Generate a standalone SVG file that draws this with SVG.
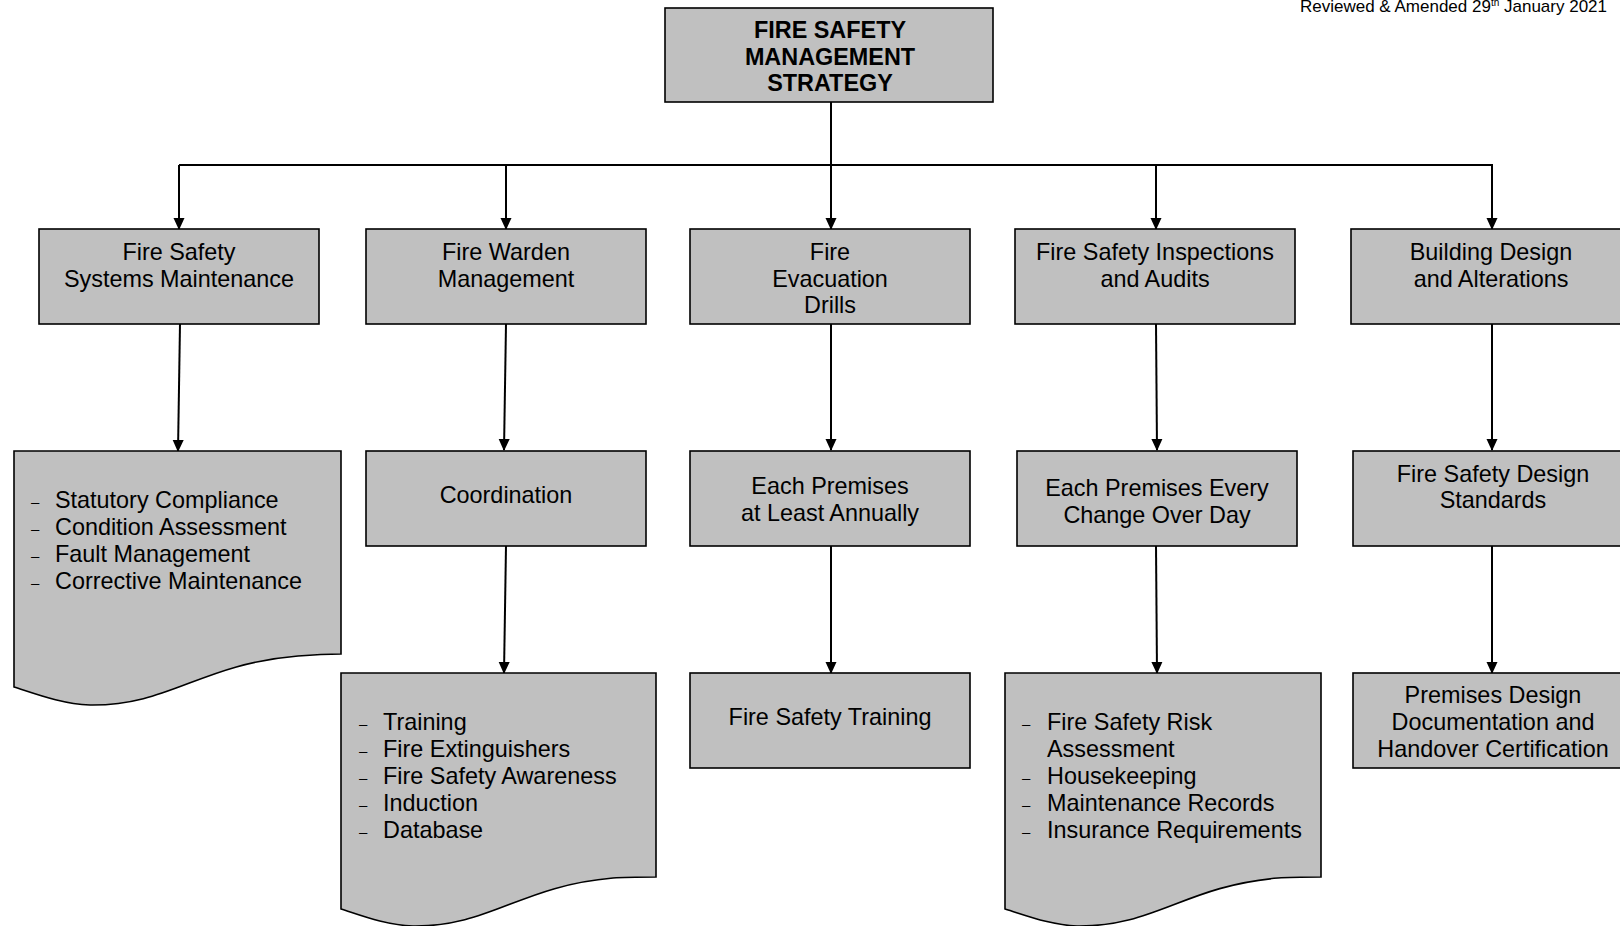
<svg xmlns="http://www.w3.org/2000/svg" width="1620" height="926" viewBox="0 0 1620 926">
<defs>
<style>
.box{fill:#c0c0c0;stroke:#000;stroke-width:1.6}
.t{font-family:"Liberation Sans",Arial,sans-serif;font-size:23.4px;fill:#000}
.c{text-anchor:middle}
.b{font-weight:bold}
.d{font-family:"Liberation Sans",Arial,sans-serif;font-size:15px;fill:#000}
.ln{fill:none;stroke:#000;stroke-width:2}
</style>
<marker id="ah" markerWidth="12" markerHeight="13" refX="12" refY="6" orient="auto" markerUnits="userSpaceOnUse" viewBox="0 0 13 12">
<path d="M0,0 L13,6 L0,12 Z" fill="#000"/>
</marker>
</defs>
<rect width="1620" height="926" fill="#fff"/>
<text class="t" x="1607" y="12" style="font-size:17px;text-anchor:end">Reviewed &amp; Amended 29<tspan style="font-size:10px" dy="-6">th</tspan><tspan dy="6"> January 2021</tspan></text>

<g id="connectors">
<line class="ln" x1="831" y1="102" x2="831" y2="165"/>
<line class="ln" x1="179" y1="165" x2="1493" y2="165"/>
<line class="ln" x1="179" y1="165" x2="179" y2="229" marker-end="url(#ah)"/>
<line class="ln" x1="506" y1="165" x2="506" y2="229" marker-end="url(#ah)"/>
<line class="ln" x1="831" y1="165" x2="831" y2="229" marker-end="url(#ah)"/>
<line class="ln" x1="1156" y1="165" x2="1156" y2="229" marker-end="url(#ah)"/>
<line class="ln" x1="1492" y1="165" x2="1492" y2="229" marker-end="url(#ah)"/>
<line class="ln" x1="180" y1="324" x2="178" y2="451" marker-end="url(#ah)"/>
<line class="ln" x1="506" y1="324" x2="504" y2="450" marker-end="url(#ah)"/>
<line class="ln" x1="831" y1="324" x2="831" y2="450" marker-end="url(#ah)"/>
<line class="ln" x1="1156" y1="324" x2="1157" y2="450" marker-end="url(#ah)"/>
<line class="ln" x1="1492" y1="324" x2="1492" y2="450" marker-end="url(#ah)"/>
<line class="ln" x1="506" y1="546" x2="504" y2="673" marker-end="url(#ah)"/>
<line class="ln" x1="831" y1="546" x2="831" y2="673" marker-end="url(#ah)"/>
<line class="ln" x1="1156" y1="546" x2="1157" y2="673" marker-end="url(#ah)"/>
<line class="ln" x1="1492" y1="546" x2="1492" y2="673" marker-end="url(#ah)"/>
</g>

<g id="root">
<rect class="box" x="665" y="8" width="328" height="94"/>
<text class="t b c" x="830" y="38">FIRE SAFETY</text>
<text class="t b c" x="830" y="64.5">MANAGEMENT</text>
<text class="t b c" x="830" y="91">STRATEGY</text>
</g>

<g id="n-systems">
<rect class="box" x="39" y="229" width="280" height="95"/>
<text class="t c" x="179" y="260">Fire Safety</text>
<text class="t c" x="179" y="286.5">Systems Maintenance</text>
</g>
<g id="n-warden">
<rect class="box" x="366" y="229" width="280" height="95"/>
<text class="t c" x="506" y="260">Fire Warden</text>
<text class="t c" x="506" y="286.5">Management</text>
</g>
<g id="n-drills">
<rect class="box" x="690" y="229" width="280" height="95"/>
<text class="t c" x="830" y="260">Fire</text>
<text class="t c" x="830" y="286.5">Evacuation</text>
<text class="t c" x="830" y="313">Drills</text>
</g>
<g id="n-inspections">
<rect class="box" x="1015" y="229" width="280" height="95"/>
<text class="t c" x="1155" y="260">Fire Safety Inspections</text>
<text class="t c" x="1155" y="286.5">and Audits</text>
</g>
<g id="n-building">
<rect class="box" x="1351" y="229" width="285" height="95"/>
<text class="t c" x="1491" y="260">Building Design</text>
<text class="t c" x="1491" y="286.5">and Alterations</text>
</g>

<g id="n-systems-list">
<path class="box" d="M14,451 H341 V654 C325,654 310,655 298,656 C200,664 170,706 90,705 C62,704 36,694 14,687 Z"/>
<text class="d" x="31" y="507">–</text><text class="t" x="55" y="508">Statutory Compliance</text>
<text class="d" x="31" y="534">–</text><text class="t" x="55" y="535">Condition Assessment</text>
<text class="d" x="31" y="561">–</text><text class="t" x="55" y="562">Fault Management</text>
<text class="d" x="31" y="588">–</text><text class="t" x="55" y="589">Corrective Maintenance</text>
</g>
<g id="n-coordination">
<rect class="box" x="366" y="451" width="280" height="95"/>
<text class="t c" x="506" y="503">Coordination</text>
</g>
<g id="n-annually">
<rect class="box" x="690" y="451" width="280" height="95"/>
<text class="t c" x="830" y="494">Each Premises</text>
<text class="t c" x="830" y="520.5">at Least Annually</text>
</g>
<g id="n-changeover">
<rect class="box" x="1017" y="451" width="280" height="95"/>
<text class="t c" x="1157" y="496">Each Premises Every</text>
<text class="t c" x="1157" y="522.5">Change Over Day</text>
</g>
<g id="n-standards">
<rect class="box" x="1353" y="451" width="285" height="95"/>
<text class="t c" x="1493" y="481.5">Fire Safety Design</text>
<text class="t c" x="1493" y="508">Standards</text>
</g>

<g id="n-warden-list">
<path class="box" d="M341,673 H656 V877 C640,877 625,877 613,878 C520,886 490,927 413,926 C385,925 360,915 341,909 Z"/>
<text class="d" x="359" y="729">–</text><text class="t" x="383" y="730">Training</text>
<text class="d" x="359" y="756">–</text><text class="t" x="383" y="757">Fire Extinguishers</text>
<text class="d" x="359" y="783">–</text><text class="t" x="383" y="784">Fire Safety Awareness</text>
<text class="d" x="359" y="810">–</text><text class="t" x="383" y="811">Induction</text>
<text class="d" x="359" y="837">–</text><text class="t" x="383" y="838">Database</text>
</g>
<g id="n-training">
<rect class="box" x="690" y="673" width="280" height="95"/>
<text class="t c" x="830" y="725">Fire Safety Training</text>
</g>
<g id="n-inspection-list">
<path class="box" d="M1005,673 H1321 V877 C1305,877 1290,877 1278,878 C1185,886 1155,927 1077,926 C1050,925 1025,915 1005,909 Z"/>
<text class="d" x="1022" y="729">–</text><text class="t" x="1047" y="730">Fire Safety Risk</text>
<text class="t" x="1047" y="757">Assessment</text>
<text class="d" x="1022" y="783">–</text><text class="t" x="1047" y="784">Housekeeping</text>
<text class="d" x="1022" y="810">–</text><text class="t" x="1047" y="811">Maintenance Records</text>
<text class="d" x="1022" y="837">–</text><text class="t" x="1047" y="838">Insurance Requirements</text>
</g>
<g id="n-handover">
<rect class="box" x="1353" y="673" width="285" height="95"/>
<text class="t c" x="1493" y="703">Premises Design</text>
<text class="t c" x="1493" y="730">Documentation and</text>
<text class="t c" x="1493" y="757">Handover Certification</text>
</g>
</svg>
